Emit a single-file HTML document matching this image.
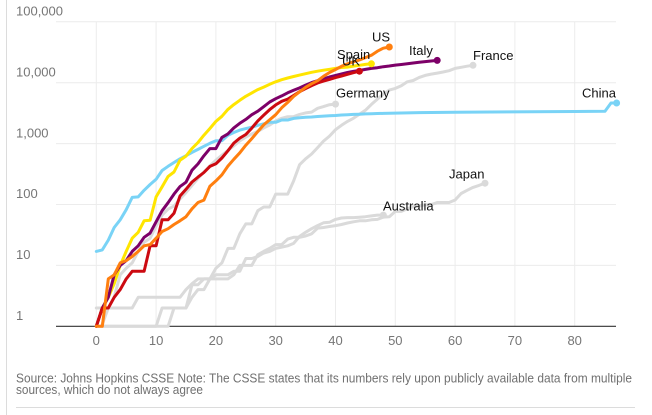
<!DOCTYPE html>
<html><head><meta charset="utf-8"><style>
html,body{margin:0;padding:0;background:#fff;}
svg{display:block;}
text{font-family:"Liberation Sans",Arial,sans-serif;}
</style></head><body>
<svg width="652" height="415" viewBox="0 0 652 415" xmlns="http://www.w3.org/2000/svg">
<rect width="652" height="415" fill="#fff"/>
<line x1="6.5" y1="0" x2="6.5" y2="415" stroke="#dcdcdc" stroke-width="1"/>
<line x1="16" y1="407.5" x2="635" y2="407.5" stroke="#dcdcdc" stroke-width="1"/>
<g stroke="#ececec" stroke-width="1">
<line x1="56" y1="21.8" x2="616" y2="21.8"/>
<line x1="56" y1="82.7" x2="616" y2="82.7"/>
<line x1="56" y1="143.6" x2="616" y2="143.6"/>
<line x1="56" y1="204.5" x2="616" y2="204.5"/>
<line x1="56" y1="265.4" x2="616" y2="265.4"/>
<line x1="96.3" y1="21.8" x2="96.3" y2="326"/>
<line x1="156.1" y1="21.8" x2="156.1" y2="326"/>
<line x1="215.9" y1="21.8" x2="215.9" y2="326"/>
<line x1="275.7" y1="21.8" x2="275.7" y2="326"/>
<line x1="335.5" y1="21.8" x2="335.5" y2="326"/>
<line x1="395.3" y1="21.8" x2="395.3" y2="326"/>
<line x1="455.1" y1="21.8" x2="455.1" y2="326"/>
<line x1="514.9" y1="21.8" x2="514.9" y2="326"/>
<line x1="574.7" y1="21.8" x2="574.7" y2="326"/>
</g>
<line x1="56" y1="326.3" x2="616" y2="326.3" stroke="#333" stroke-width="1.2"/>
<g font-size="13" fill="#767676">
<text x="16" y="15.7">100,000</text>
<text x="16" y="76.5">10,000</text>
<text x="16" y="137.3">1,000</text>
<text x="16" y="198.2">100</text>
<text x="16" y="259">10</text>
<text x="16" y="320">1</text>
</g>
<g font-size="13" fill="#767676" text-anchor="middle">
<text x="96.3" y="345">0</text>
<text x="156.1" y="345">10</text>
<text x="215.9" y="345">20</text>
<text x="275.7" y="345">30</text>
<text x="335.5" y="345">40</text>
<text x="395.3" y="345">50</text>
<text x="455.1" y="345">60</text>
<text x="514.9" y="345">70</text>
<text x="574.7" y="345">80</text>
</g>
<g fill="none" stroke-width="3" stroke-linejoin="round" stroke-linecap="round">
<polyline stroke="#dadada" points="96.3,326.3 168.1,326.3 174,308 186,308 192,284.7 198,284.7 203.9,278.9 209.9,278.9 215.9,274.8 227.9,274.8 233.8,271.3 239.8,271.3 245.8,258.5 251.8,258.5 257.8,256.5 263.7,253 269.7,251.4 275.7,248.4 281.7,247.1 287.7,245.8 293.6,243.4 299.6,236.4 305.6,232.3 311.6,228.7 317.6,225.6 323.5,222.8 329.5,222.3 335.5,219.4 341.5,218 347.5,217.6 353.4,217.6 359.4,217.2 365.4,216.7 371.4,215.9 377.4,215.1 383.3,215.1"/>
<polyline stroke="#dadada" points="96.3,308 132.2,308 138.2,297.3 180,297.3 186,289.6 192,283.7 198,278.9 227.9,278.9 233.8,274.8 239.8,265.4 251.8,265.4 257.8,254.7 263.7,251.4 269.7,248.4 275.7,244.6 281.7,244.6 287.7,239.1 293.6,237.3 299.6,237.3 305.6,236 311.6,233.8 317.6,228.1 323.5,227.5 329.5,226.5 335.5,225.6 341.5,224.5 347.5,223 353.4,221.8 359.4,220.8 365.4,220.8 371.4,219.8 377.4,219.4 383.3,217.1 389.3,216.7 395.3,211.4 401.3,211.4 407.3,208.8 413.2,206.7 419.2,206.1 425.2,204.7 431.2,204.7 437.2,202.5 449.1,202.5 455.1,200 461.1,193.5 467.1,190.3 473,187.4 479,185.4 485,183.2"/>
<polyline stroke="#dadada" points="96.3,326.3 156.1,326.3 162.1,308 186,308 192,297.3 198,289.6 203.9,289.6 209.9,278.9 215.9,268.2 221.9,262.9 227.9,248.4 233.8,248.4 239.8,233.8 245.8,223.9 251.8,223.9 257.8,210.7 263.7,207 269.7,207 275.7,194.1 287.7,194.1 293.6,181 299.6,164.7 305.6,158.8 311.6,154 317.6,147.6 323.5,141.1 329.5,136.1 335.5,129.7 341.5,125.3 347.5,121.4 353.4,118.3 359.4,114.3 365.4,110.3 371.4,104.4 377.4,99.1 383.3,94.1 389.3,90.1 395.3,88.4 401.3,85.7 407.3,81.8 413.2,80.5 419.2,77.4 425.2,75.4 431.2,74.1 437.2,73.1 443.1,72 449.1,70.7 455.1,68.4 461.1,67.3 467.1,66.2 473,65.3"/>
<polyline stroke="#dadada" points="101.5,326.3 108.3,308 114.2,297.3 120.2,274.8 126.2,268.2 132.2,262.9 138.2,251.4 144.1,242.2 150.1,238.2 156.1,226.2 162.1,215.1 168.1,209.1 174,206.1 180,199 186,192.6 192,185.4 198,178.5 203.9,172 209.9,165.8 215.9,160.2 221.9,155.2 227.9,150.4 233.8,145.8 239.8,140.9 245.8,137.1 251.8,133.9 257.8,131.4 263.7,127.9 269.7,125 275.7,121 281.7,118.3 287.7,116.7 293.6,116.7 299.6,114.4 305.6,112.9 311.6,112.1 317.6,108.3 323.5,106.6 329.5,104.7 335.5,104.1"/>
<polyline stroke="#79d3f6" points="96.3,251.4 102.3,249.9 108.3,240.1 114.2,227.5 120.2,219.8 126.2,209.7 132.2,197.4 138.2,196.9 144.1,190.3 150.1,184.5 156.1,179.3 162.1,170.5 168.1,166.3 174,162.5 180,158.8 186,155.7 192,152.4 198,149.4 203.9,146.3 209.9,143.3 215.9,140.8 221.9,140.7 227.9,135.3 233.8,132.5 239.8,130.1 245.8,128.6 251.8,127.2 257.8,125.3 263.7,123.8 269.7,122.3 275.7,122.3 281.7,120 287.7,120 293.6,118.4 299.6,117.7 305.6,117.2 311.6,117 317.6,116.5 323.5,116.1 329.5,115.7 335.5,115.5 341.5,115 347.5,114.7 353.4,114.4 359.4,114.2 365.4,113.9 371.4,113.7 377.4,113.5 383.3,113.4 389.3,113.2 419.2,112.6 455.1,112.2 508.9,111.9 574.7,111.5 605,111.2 611,103 616.6,103"/>
<polyline stroke="#ffe500" points="96.3,326.3 102.3,308 108.3,297.3 114.2,283.7 120.2,265.4 126.2,251.4 132.2,238.2 138.2,232.3 144.1,220.8 150.1,220.3 156.1,196.9 162.1,186.8 168.1,176.4 174,172 180,160.2 186,156.1 192,148.5 198,142.5 203.9,135.2 209.9,128.5 215.9,121.4 221.9,116.3 227.9,109.4 233.8,104.6 239.8,100.3 245.8,96.3 251.8,92.9 257.8,89.6 263.7,87.1 269.7,84.3 275.7,81.8 281.7,79.7 287.7,78 293.6,76.5 299.6,75.1 305.6,73.7 311.6,72.3 317.6,71.2 323.5,70.2 329.5,69.3 335.5,68.3 341.5,67.5 347.5,67.1 353.4,66.1 359.4,65.3 365.4,64.4 371.4,63.8"/>
<polyline stroke="#7d0068" points="96.3,326.3 102.3,308 108.3,297.3 114.2,274.8 120.2,265.4 126.2,260.6 132.2,251.4 138.2,245.8 144.1,237.3 150.1,233.1 156.1,221.8 162.1,210.7 168.1,202.7 174,194.1 180,186.6 186,182.2 192,170.2 198,163.9 203.9,155.8 209.9,148.6 215.9,148.6 221.9,137.4 227.9,133.9 233.8,127.9 239.8,123.3 245.8,119.4 251.8,114.7 257.8,111.2 263.7,106.7 269.7,102 275.7,98.7 281.7,95.9 287.7,92.8 293.6,90.3 299.6,87.9 305.6,85.1 311.6,82.6 317.6,80.7 323.5,78.8 329.5,77 335.5,75.5 341.5,74 347.5,72.5 353.4,71.4 359.4,70.5 365.4,69.4 371.4,68.4 377.4,67.7 383.3,66.7 389.3,66 395.3,65.1 401.3,64.5 407.3,63.8 413.2,63 419.2,62.3 425.2,61.6 431.2,61 437.2,60.4"/>
<polyline stroke="#cc0a11" points="96.3,326.3 102.3,308 108.3,308 114.2,297.3 120.2,289.6 126.2,278.9 132.2,271.3 138.2,271.3 144.1,271.3 150.1,245.8 156.1,245.8 162.1,219.8 168.1,219.8 174,213.2 180,196 186,189.3 192,182 198,177.1 203.9,172.5 209.9,166.4 215.9,163.8 221.9,158 227.9,150.8 233.8,143.1 239.8,138.1 245.8,134.5 251.8,128.1 257.8,120.9 263.7,115.2 269.7,109.6 275.7,104.9 281.7,101.3 287.7,99.1 293.6,95.5 299.6,91.7 305.6,88.6 311.6,85.6 317.6,83 323.5,81.1 329.5,79.4 335.5,77.6 341.5,76 347.5,74.3 353.4,72.7 359.4,71.2"/>
<polyline stroke="#ff7f0f" points="96.3,326.3 102.3,326.3 108.3,278.9 114.2,274.8 120.2,262.9 126.2,260.6 132.2,256.5 138.2,251.4 144.1,245.8 150.1,244.6 156.1,238.2 162.1,231.5 168.1,228.7 174,224.5 180,220.8 186,216.7 192,208.8 198,202.5 203.9,200.1 209.9,186.2 215.9,180.9 221.9,174.8 227.9,166.1 233.8,159.3 239.8,152.8 245.8,145.2 251.8,138.6 257.8,131.5 263.7,124.9 269.7,119.7 275.7,114.7 281.7,107.8 287.7,102.4 293.6,96.5 299.6,91.8 305.6,87.3 311.6,83.7 317.6,80.7 323.5,76.3 329.5,72.5 335.5,69.5 341.5,66.3 347.5,63.8 353.4,61.8 359.4,60 365.4,57.6 371.4,55.2 377.4,51.2 383.3,48.2 389.3,47"/>
</g>
<g>
<circle cx="383.3" cy="215.1" r="3.5" fill="#dadada"/>
<circle cx="485" cy="183.2" r="3.5" fill="#dadada"/>
<circle cx="473" cy="65.3" r="3.5" fill="#dadada"/>
<circle cx="335.5" cy="104.1" r="3.5" fill="#dadada"/>
<circle cx="616.6" cy="103" r="3.5" fill="#79d3f6"/>
<circle cx="371.4" cy="63.8" r="3.5" fill="#ffe500"/>
<circle cx="437.2" cy="60.4" r="3.5" fill="#7d0068"/>
<circle cx="359.4" cy="71.2" r="3.5" fill="#cc0a11"/>
<circle cx="389.3" cy="47" r="3.5" fill="#ff7f0f"/>
</g>
<g font-size="13" fill="#121212">
<text x="372" y="41.7">US</text>
<text x="409" y="55">Italy</text>
<text x="473" y="60">France</text>
<text x="582" y="97.3">China</text>
<text x="336" y="97.7">Germany</text>
<text x="337" y="59">Spain</text>
<text x="342" y="65.7">UK</text>
<text x="449" y="178.3">Japan</text>
<text x="383" y="210.7">Australia</text>
</g>
<g font-size="13" fill="#707070">
<text x="16" y="382.5" textLength="616" lengthAdjust="spacingAndGlyphs">Source: Johns Hopkins CSSE Note: The CSSE states that its numbers rely upon publicly available data from multiple</text>
<text x="16" y="394" textLength="187" lengthAdjust="spacingAndGlyphs">sources, which do not always agree</text>
</g>
</svg>
</body></html>
